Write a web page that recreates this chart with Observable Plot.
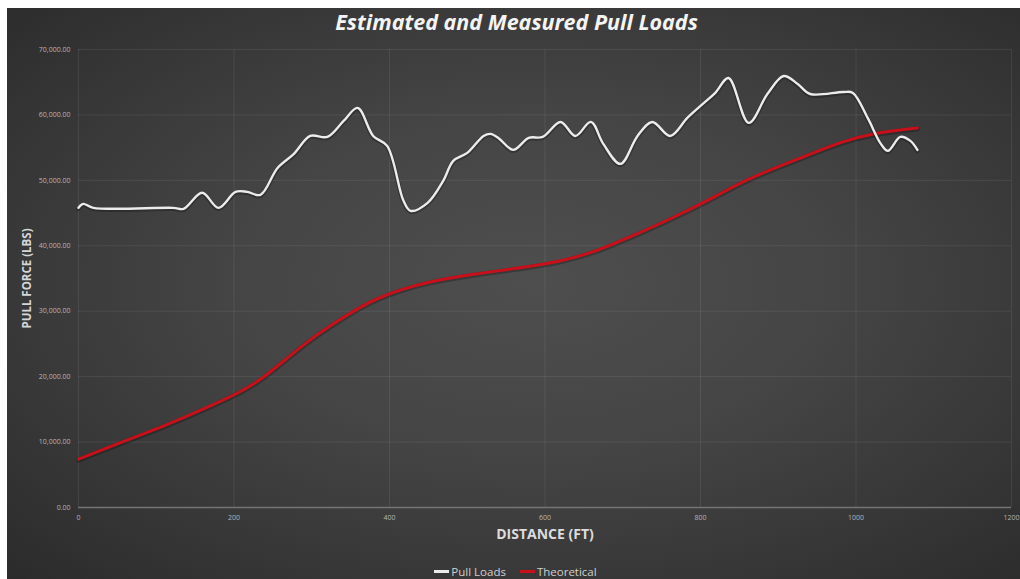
<!DOCTYPE html>
<html><head><meta charset="utf-8">
<script src="https://cdn.jsdelivr.net/npm/d3@7"></script>
<script src="https://cdn.jsdelivr.net/npm/@observablehq/plot@0.6"></script>
<style>
body{margin:0;background:#fff;}
#wrap{position:absolute;left:7px;top:8px;width:1013px;height:571px;overflow:hidden;
  background:radial-gradient(ellipse at 52% 48%, #4e4e4e 0%, #454545 40%, #363636 75%, #2b2b2b 100%);
  font-family:"Open Sans",Lato,sans-serif;}
#title{height:30px;line-height:28px;text-align:center;color:#f4f4f4;font-weight:bold;font-style:italic;font-size:21.5px;padding-left:6px;box-sizing:border-box;}
#chart svg{display:block;}
#legend{position:absolute;left:0;width:100%;top:556px;display:flex;justify-content:center;gap:14px;color:#cfcfcf;font-size:11.5px;padding-left:4px;box-sizing:border-box;}
#legend span{display:flex;align-items:center;}
#legend i{display:inline-block;width:15px;height:3px;margin-right:2px;}
</style></head>
<body>
<div id="wrap">
  <div id="title">Estimated and Measured Pull Loads</div>
  <div id="chart"></div>
  <div id="legend"></div>
</div>
<script>
// Pull Loads (measured)
const pullDist = [0, 6, 19, 122, 135, 159, 180, 202, 217, 234, 256, 277, 298, 320, 341, 359, 379, 397, 418, 427, 449, 469, 482, 500, 521, 530, 540, 559, 579, 597, 620, 639, 659, 675, 697, 719, 738, 761, 783, 803, 819, 836, 862, 886, 907, 925, 941, 984, 996, 1015, 1032, 1041, 1057, 1070, 1079];
const pullLoad = [45800, 46400, 45800, 45800, 45650, 48100, 45800, 48240, 48240, 47790, 51900, 54050, 56790, 56640, 59080, 61070, 56790, 55270, 46870, 45340, 46560, 49920, 52980, 54200, 56790, 57100, 56490, 54660, 56490, 56640, 58930, 56790, 58930, 55570, 52520, 56790, 58930, 56790, 59540, 61680, 63360, 65650, 58780, 63200, 65950, 64730, 63200, 63510, 63360, 59540, 55570, 54500, 56640, 56030, 54660];
// Theoretical (estimated)
const theoDist = [0, 54, 118, 174, 212, 238, 269, 299, 334, 363, 388, 414, 444, 508, 572, 624, 668, 710, 765, 826, 860, 929, 984, 1023, 1079];
const theoLoad = [7400, 9920, 12820, 15730, 17860, 19850, 22900, 25800, 28550, 30700, 32150, 33280, 34350, 35720, 36640, 37710, 39240, 41370, 44270, 47940, 50230, 53430, 56030, 57250, 58010];
const xTicks = [0, 200, 400, 600, 800, 1000, 1200];
const yTicks = [0, 10000, 20000, 30000, 40000, 50000, 60000, 70000];
const seriesNames = ["Pull Loads", "Theoretical"];
const seriesColors = ["#ececec", "#c8101a"];

const pull = pullDist.map((d, i) => ({d, v: pullLoad[i]}));
const theo = theoDist.map((d, i) => ({d, v: theoLoad[i]}));

const chart = Plot.plot({
  width: 1013, height: 510,
  marginLeft: 71, marginRight: 9, marginTop: 11, marginBottom: 41,
  style: {background: "transparent", color: "#bdbdbd", fontFamily: "'Open Sans', sans-serif", overflow: "visible"},
  x: {domain: [0, 1200]},
  y: {domain: [0, 70000]},
  marks: [
    Plot.gridX(xTicks, {stroke: "#ffffff", strokeOpacity: 0.08}),
    Plot.gridY(yTicks, {stroke: "#ffffff", strokeOpacity: 0.08}),
    Plot.ruleY([0], {stroke: "#747474", strokeWidth: 1.5}),
    Plot.line(theo, {x: "d", y: "v", stroke: "#000", strokeOpacity: 0.25, strokeWidth: 5, curve: "basis", dy: 1}),
    Plot.line(theo, {x: "d", y: "v", stroke: seriesColors[1], strokeWidth: 3, curve: "basis"}),
    Plot.line(pull, {x: "d", y: "v", stroke: "#000", strokeOpacity: 0.25, strokeWidth: 4.5, curve: "catmull-rom", dy: 1}),
    Plot.line(pull, {x: "d", y: "v", stroke: seriesColors[0], strokeWidth: 2.4, curve: "catmull-rom"}),
    Plot.axisX(xTicks, {tickSize: 0, tickPadding: 8, fontSize: 7, fill: "#b5b5b5", label: null, tickFormat: d => String(d)}),
    Plot.axisY(yTicks, {tickSize: 0, tickPadding: 8, fontSize: 7, fill: "#b5b5b5", label: null, tickFormat: d3.format(",.2f")}),
    Plot.text(["DISTANCE (FT)"], {frameAnchor: "bottom", dy: 31, text: d => d, fontSize: 14, fontWeight: "bold", fill: "#dcdcdc", textAnchor: "middle"}),
    Plot.text(["PULL FORCE (LBS)"], {frameAnchor: "left", dx: -51, rotate: -90, text: d => d, fontSize: 11.5, fontWeight: "bold", fill: "#d6d6d6", textAnchor: "middle"})
  ]
});
document.getElementById("chart").appendChild(chart);

const legend = document.getElementById("legend");
seriesNames.forEach((n, i) => {
  const s = document.createElement("span");
  const sw = document.createElement("i");
  sw.style.background = seriesColors[i];
  s.appendChild(sw);
  s.appendChild(document.createTextNode(n));
  legend.appendChild(s);
});
</script>
</body></html>
